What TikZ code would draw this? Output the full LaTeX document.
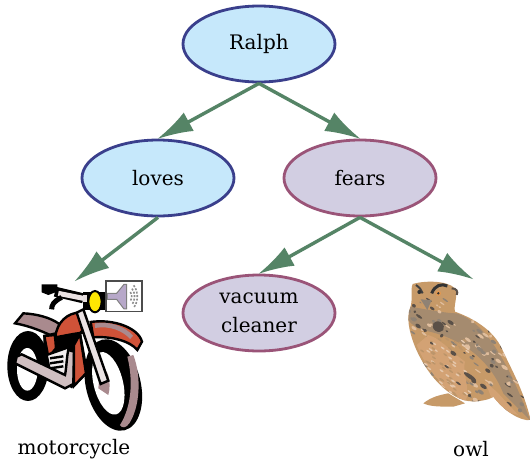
\documentclass[tikz,border=0pt]{standalone}
\usepackage{fontspec}
\setmainfont{DejaVu Serif}
\usetikzlibrary{arrows.meta,shapes.geometric}
\definecolor{bluefill}{HTML}{C6E8FB}
\definecolor{blueline}{HTML}{3A3F8C}
\definecolor{mauvefill}{HTML}{D2CEE2}
\definecolor{mauveline}{HTML}{9A5478}
\definecolor{edgegreen}{HTML}{558466}
\definecolor{bikered}{HTML}{CF5238}
\definecolor{bikemauve}{HTML}{A98A8E}
\definecolor{owltan}{HTML}{C79A68}
\definecolor{owlor}{HTML}{D3A274}
\definecolor{owldark}{HTML}{5A5048}
\definecolor{owlgrey}{HTML}{8F8274}
\tikzset{
  x=1pt,y=-1pt,
  ovalbox/.style={shape=ellipse,line width=2.8pt,minimum width=152pt,minimum height=76pt,inner sep=0pt,align=center,font=\fontsize{20}{29}\selectfont},
  lovenode/.style={ovalbox,fill=bluefill,draw=blueline},
  fearnode/.style={ovalbox,fill=mauvefill,draw=mauveline},
  link/.style={draw=edgegreen,line width=3.4pt,-{Latex[length=36pt,width=21pt,fill=edgegreen]},shorten >=-1pt},
  caption/.style={font=\fontsize{20}{24}\selectfont,inner sep=0pt},
  bk/.style={draw=black,line width=2.4pt},
}
\begin{document}
\begin{tikzpicture}
\useasboundingbox (0,0) rectangle (531,464);
\fill[white] (0,0) rectangle (531,464);
% motorcycle (zoomed coordinates, 3x)
\begin{scope}[shift={(0,260)},x=0.3333pt,y=-0.3333pt]
 % rear wheel
 \fill[black] (84,318) ellipse [x radius=62,y radius=105];
 \fill[white] (82,328) ellipse [x radius=31,y radius=64];
 % front wheel
 \fill[black,rotate around={14:(340,375)}] (340,375) ellipse [x radius=82,y radius=140];
 \fill[bikemauve] (400,285) .. controls (425,350) and (420,440) .. (388,490) .. controls (378,505) and (365,505) .. (360,495) .. controls (395,440) and (400,360) .. (382,290) -- cycle;
 \fill[white,rotate around={14:(325,370)}] (325,370) ellipse [x radius=44,y radius=96];
 \fill[bikemauve] (300,330) .. controls (325,315) and (335,370) .. (325,405) -- (295,385) -- cycle;
 % seat
 \fill[bikemauve,bk] (45,190) -- (70,160) .. controls (110,162) and (150,172) .. (178,192) -- (172,235) .. controls (130,215) and (90,198) .. (45,190) -- cycle;
 % frame / engine
 \fill[black] (130,225) -- (240,200) -- (265,340) -- (215,385) -- (130,330) -- cycle;
 \fill[bikered,bk] (133,228) -- (165,225) -- (168,265) -- (145,292) -- cycle;
 \fill[white!85!bikemauve,bk] (140,285) -- (205,262) -- (215,340) -- (195,360) -- (150,335) -- cycle;
 \foreach \yy in {295,310,325} \draw[black,line width=2.4pt] (150,\yy) -- (190,\yy-6);
 % exhaust
 \fill[bikemauve!55!white,bk] (50,290) -- (65,283) -- (195,345) .. controls (200,320) and (200,290) .. (205,270) -- (222,275) -- (220,372) -- (195,385) -- (45,310) -- cycle;
 % tank
 \fill[bikered,bk] (166,232) .. controls (170,185) and (205,158) .. (238,158) -- (248,218) .. controls (215,222) and (190,228) .. (166,232) -- cycle;
 % frame red tube
 \fill[bikered,bk] (222,255) -- (240,222) -- (258,340) -- (222,378) -- cycle;
 % fender
 \fill[bikered,bk] (272,186) .. controls (340,176) and (415,203) .. (426,245) -- (412,270) .. controls (390,242) and (330,228) .. (280,232) -- cycle;
 \draw[bikemauve,line width=4.5pt] (285,197) .. controls (330,190) and (370,205) .. (395,232);
 % fork
 \fill[white!75!bikemauve,bk] (230,158) -- (250,148) -- (325,362) -- (302,372) -- cycle;
 % handlebar
 \fill[black] (125,73) -- (172,73) -- (172,95) -- (145,105) -- (125,97) -- cycle;
 \draw[black,line width=10pt] (165,95) -- (250,115);
 \draw[white!75!bikemauve,line width=5pt] (175,100) -- (250,115);
 \draw[black,line width=5pt] (185,112) .. controls (160,125) and (155,135) .. (155,148);
 % headlight
 \fill[black] (248,95) rectangle (322,150);
 \fill[yellow!90!orange,draw=black,line width=2pt] (285,125) ellipse [x radius=20,y radius=32];
 \fill[white!70!bikemauve] (250,105) rectangle (262,125);
 % speaker icon
 \fill[white,draw=black!70,line width=1.6pt] (318,63) rectangle (426,155);
 \fill[blue!20!bikemauve!60!white,draw=black!50,line width=1pt] (322,100) -- (350,100) -- (372,73) -- (380,73) -- (380,147) -- (372,147) -- (350,118) -- (322,118) -- cycle;
 \foreach \rr in {14,24,34} \draw[black!45,line width=1.6pt,dash pattern=on 2pt off 1.5pt] (384+\rr*0.5,110-\rr) arc[start angle=-50,end angle=50,x radius=\rr*0.9,y radius=\rr*1.3];
\end{scope}
% owl (zoomed coordinates, 3x)
\begin{scope}[shift={(390,260)},x=0.3333pt,y=-0.3333pt]
 \fill[owltan] (100,430) .. controls (125,410) and (150,405) .. (175,400) -- (225,430) -- (190,440) .. controls (150,440) and (120,440) .. (100,430) -- cycle;
 \begin{scope}
 \clip (68,72) .. controls (100,62) and (170,60) .. (195,85) .. controls (205,110) and (190,135) .. (195,155)
   .. controls (250,175) and (310,210) .. (335,265) .. controls (370,340) and (400,390) .. (422,480)
   .. controls (390,485) and (340,450) .. (310,410) .. controls (300,420) and (250,430) .. (220,420)
   .. controls (150,395) and (100,320) .. (75,260) .. controls (55,210) and (50,170) .. (60,145) .. controls (70,120) and (60,90) .. (68,72) -- cycle;
 \fill[owltan] (0,0) rectangle (440,500);
 \fill[owlgrey!60!owltan] (60,140) .. controls (120,150) and (170,160) .. (200,160) .. controls (260,180) and (330,240) .. (420,480) -- (340,400) .. controls (300,300) and (220,240) .. (120,215) .. controls (90,210) and (70,200) .. (55,180) -- cycle;
 \pgfmathsetseed{17}
 \foreach \n in {1,...,260} {
   \pgfmathsetmacro\px{50+rnd*380}
   \pgfmathsetmacro\py{110+rnd*380}
   \pgfmathsetmacro\ra{4+rnd*8}
   \pgfmathsetmacro\rb{2+rnd*4}
   \pgfmathsetmacro\kk{rnd}
   \pgfmathparse{\kk<0.42?"owldark":(\kk<0.72?"owlgrey":"owlor!70!white")}
   \edef\cc{\pgfmathresult}
   \fill[color=\cc,rotate around={-35:(\px,\py)}] (\px,\py) ellipse [x radius=\ra,y radius=\rb];
 }
 % light belly and tail
 \fill[owlor] (115,225) .. controls (150,235) and (190,280) .. (225,305) .. controls (215,335) and (245,395) .. (225,425) .. controls (170,400) and (110,330) .. (80,255) -- cycle;
 \fill[owlor] (285,365) -- (320,395) -- (385,465) -- (345,455) -- (305,415) -- cycle;
 \pgfmathsetseed{5}
 \foreach \n in {1,...,90} {
   \pgfmathsetmacro\px{90+rnd*150}
   \pgfmathsetmacro\py{235+rnd*185}
   \pgfmathsetmacro\kk{rnd}
   \pgfmathparse{\kk<0.5?"owltan!80!owlgrey":"owlor!60!white"}
   \edef\cc{\pgfmathresult}
   \fill[color=\cc,rotate around={-35:(\px,\py)}] (\px,\py) ellipse [x radius=7,y radius=2.5];
 }
 \foreach \xx/\yy/\aa/\bb in {145/200/18/15, 240/350/22/6, 190/280/10/6, 125/250/6/3, 170/320/8/3, 205/370/9/3}
   \fill[owldark,rotate around={-35:(\xx,\yy)}] (\xx,\yy) ellipse [x radius=\aa,y radius=\bb];
 \fill[owlgrey] (92,118) -- (125,120) -- (112,150) -- cycle;
 \end{scope}
 % eyes, brows
 \draw[black!80,line width=3pt] (125,100) .. controls (135,75) and (155,70) .. (172,78);
 \draw[black!75,line width=2pt] (78,75) .. controls (88,82) and (95,90) .. (98,100);
 \fill[black!80] (88,96) circle [radius=6];
 \fill[owlor!70!orange] (145,100) circle [radius=8];
 \fill[black!80] (145,100) circle [radius=4];
 \draw[owldark,line width=2pt] (185,85) .. controls (200,85) and (205,95) .. (200,105);
\end{scope}
% nodes
\node[lovenode] (ralph) at (259,44) {Ralph};
\node[lovenode] (loves) at (158,178) {loves};
\node[fearnode] (fears) at (360,178) {fears};
\node[fearnode] (vacuum) at (259,313) {vacuum\\cleaner};
\coordinate (moto) at (75,281);
\coordinate (owlc) at (473,279);
\node[caption] (motolabel) at (74,449) {motorcycle};
\node[caption] (owllabel) at (471,449) {owl};
% connectors
\draw[link] (ralph.south) -- (loves.north);
\draw[link] (ralph.south) -- (fears.north);
\draw[link] (loves.south) -- (moto);
\draw[link] (fears.south) -- (vacuum.north);
\draw[link] (fears.south) -- (owlc);
\end{tikzpicture}
\end{document}
